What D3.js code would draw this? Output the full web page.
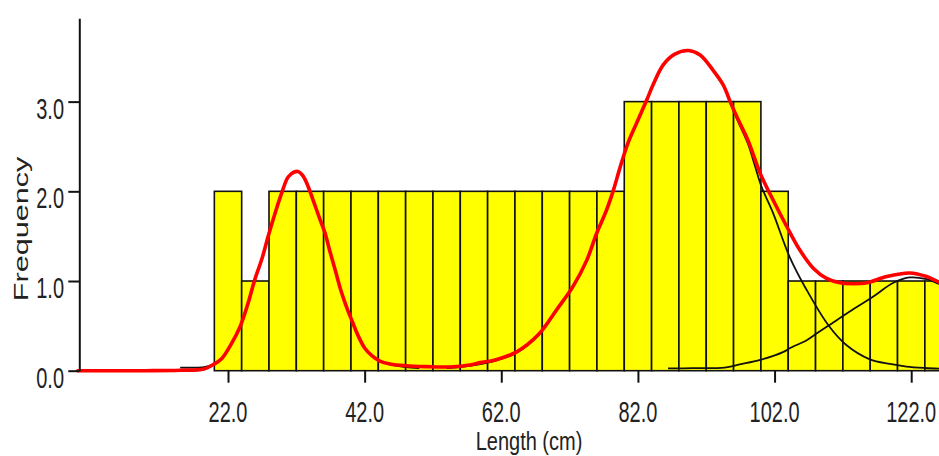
<!DOCTYPE html>
<html>
<head>
<meta charset="utf-8">
<script src="https://cdn.jsdelivr.net/npm/d3@7"></script>
<style>
  html, body { margin: 0; padding: 0; background: #fff; }
  svg { display: block; overflow: hidden; }
</style>
</head>
<body>
<script>
// ---- data ----
const binStarts = [20,24,28,32,36,40,44,48,52,56,60,64,68,72,76,80,84,88,92,96,100,104,108,112,116,120,124];
const binWidth = 4;
const binCounts = [2,1,2,2,2,2,2,2,2,2,2,2,2,2,2,3,3,3,3,3,2,1,1,1,1,1,1];

const xTickValues = [22,42,62,82,102,122];
const yTickValues = [0,1,2,3];

// fitted total curve (red)
const totalLen  = [0,10,15,18.5,19.9,21.1,22.4,23.75,24.9,25.9,27.0,27.85,28.9,29.9,30.8,31.7,32.3,33.0,33.7,34.6,35.5,36.2,36.9,37.7,38.5,39.3,40.1,41.0,42.0,43.1,44.2,45.7,48,51,54.5,57.4,58.9,61.1,64.25,67.4,70.1,72.5,74.5,75.95,77.4,78.4,79.4,80.5,81.8,83.3,84.2,85.7,87.4,89.4,91.1,93.0,94.5,95.5,96.7,98.1,99.9,101.8,103.8,105.7,107.7,109.6,111.6,113.5,115.5,118.4,121.8,124.25,126,128];
const totalFreq = [0,0,0.005,0.02,0.07,0.136,0.287,0.487,0.743,1.01,1.256,1.49,1.758,1.99,2.16,2.215,2.22,2.17,2.06,1.87,1.68,1.535,1.334,1.12,0.90,0.72,0.565,0.398,0.253,0.164,0.108,0.075,0.055,0.045,0.042,0.064,0.09,0.12,0.21,0.40,0.68,0.94,1.23,1.53,1.79,2.01,2.27,2.53,2.76,3.02,3.185,3.41,3.53,3.57,3.52,3.35,3.185,3.0,2.795,2.57,2.20,1.90,1.605,1.345,1.14,1.03,0.98,0.97,0.98,1.05,1.09,1.05,0.99,0.92];

// component 1 (black)
const comp1Len  = [15,16.4,18.5,19.9,21.1,22.4,23.75,24.9,25.9,27.0,27.85,28.9,29.9,30.8,31.7,32.3,33.0,33.7,34.6,35.5,36.2,36.9,37.7,38.5,39.3,40.1,41.0,42.0,43.1,44.2,45.7,48,50];
const comp1Freq = [0.035,0.035,0.04,0.07,0.136,0.287,0.487,0.743,1.01,1.256,1.49,1.758,1.99,2.16,2.215,2.22,2.17,2.06,1.87,1.68,1.535,1.334,1.12,0.90,0.72,0.565,0.398,0.253,0.164,0.108,0.07,0.04,0.03];

// component 2 (black)
const comp2Len  = [54,57.4,61.1,64.25,67.4,70.1,72.5,74.5,75.95,77.4,78.4,79.4,80.5,81.8,83.3,84.2,85.7,87.4,89.4,91.1,93.0,94.5,95.5,96.7,98.1,99.1,100.1,101.8,104.2,106.7,109.85,112.5,115.95,118.9,121.3,124,128];
const comp2Freq = [0.03,0.055,0.11,0.20,0.39,0.67,0.93,1.22,1.52,1.78,2.0,2.26,2.52,2.75,3.01,3.175,3.40,3.525,3.565,3.515,3.345,3.175,2.985,2.77,2.53,2.29,2.05,1.755,1.27,0.90,0.51,0.287,0.127,0.075,0.045,0.03,0.02];

// component 3 (black)
const comp3Len  = [86.4,90,94.7,96.9,99.9,103.3,104.2,106.7,108.2,109.85,113.0,116.4,119.4,121.8,124.25,126,128];
const comp3Freq = [0.025,0.028,0.035,0.07,0.12,0.21,0.25,0.34,0.417,0.50,0.66,0.825,0.98,1.04,1.02,0.97,0.9];

// ---- chart ----
const W = 939, H = 456;
const svg = d3.select("body").append("svg").attr("width", W).attr("height", H);

const x = d3.scaleLinear().domain([0, 100]).range([77.7, 760.9]);
const y = d3.scaleLinear().domain([0, 3.929]).range([370.7, 18.3]);

const font = "'Liberation Sans', Arial, Helvetica, sans-serif";

// bars
svg.append("g").selectAll("rect")
  .data(binStarts.map((s, i) => ({ s, c: binCounts[i] })))
  .join("rect")
  .attr("x", d => x(d.s))
  .attr("width", d => x(d.s + binWidth) - x(d.s))
  .attr("y", d => y(d.c))
  .attr("height", d => y(0) - y(d.c))
  .attr("fill", "#ffff00")
  .attr("stroke", "#111")
  .attr("stroke-width", 1.6);

const line = d3.line()
  .x(d => x(d[0]))
  .y(d => y(d[1]))
  .curve(d3.curveCatmullRom.alpha(0.5));

const zip = (a, b) => a.map((v, i) => [v, b[i]]);

[[comp1Len, comp1Freq], [comp2Len, comp2Freq], [comp3Len, comp3Freq]].forEach(([L, F]) => {
  svg.append("path")
    .datum(zip(L, F))
    .attr("d", line)
    .attr("fill", "none")
    .attr("stroke", "#111")
    .attr("stroke-width", 1.8);
});

svg.append("path")
  .datum(zip(totalLen, totalFreq))
  .attr("d", line)
  .attr("fill", "none")
  .attr("stroke", "#ff0000")
  .attr("stroke-width", 3.6)
  .attr("stroke-linejoin", "round")
  .attr("stroke-linecap", "round");

// y axis
const yAxis = svg.append("g")
  .attr("transform", `translate(${x(0) + 1.6},0)`)
  .call(d3.axisLeft(y).tickValues(yTickValues).tickSize(11).tickSizeOuter(0).tickFormat(""));
yAxis.select(".domain").attr("stroke", "#111").attr("stroke-width", 2);
yAxis.selectAll(".tick line").attr("stroke", "#111").attr("stroke-width", 2);

// x axis ticks
const xAxis = svg.append("g")
  .attr("transform", `translate(0,${y(0)})`)
  .call(d3.axisBottom(x).tickValues(xTickValues).tickSize(12).tickSizeOuter(0).tickFormat(""));
xAxis.select(".domain").remove();
xAxis.selectAll(".tick line").attr("stroke", "#111").attr("stroke-width", 2);

const fmt = d3.format(".1f");

// y tick labels (tall, narrow look)
svg.append("g").selectAll("text")
  .data(yTickValues)
  .join("text")
  .attr("transform", d => `translate(64,${y(d) + 17}) scale(1,1.45)`)
  .attr("text-anchor", "end")
  .attr("font-family", font)
  .attr("font-size", 20)
  .attr("fill", "#222")
  .text(d => fmt(d));

// x tick labels
svg.append("g").selectAll("text")
  .data(xTickValues)
  .join("text")
  .attr("transform", d => `translate(${x(d)},422) scale(1,1.45)`)
  .attr("text-anchor", "middle")
  .attr("font-family", font)
  .attr("font-size", 20)
  .attr("fill", "#222")
  .text(d => fmt(d));

// axis titles
svg.append("text")
  .attr("transform", "translate(529,450) scale(1,1.3)")
  .attr("text-anchor", "middle")
  .attr("font-family", font)
  .attr("font-size", 20)
  .attr("fill", "#222")
  .text("Length (cm)");

svg.append("text")
  .attr("transform", "translate(27.6,229) rotate(-90) scale(1.53,1)")
  .attr("text-anchor", "middle")
  .attr("font-family", font)
  .attr("font-size", 20)
  .attr("fill", "#222")
  .text("Frequency");
</script>
</body>
</html>
